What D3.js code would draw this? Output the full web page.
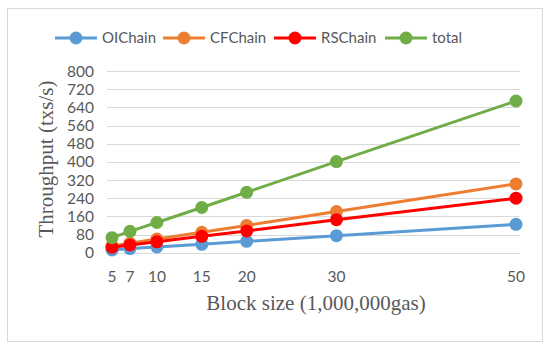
<!DOCTYPE html>
<meta charset="utf-8">
<script src="https://d3js.org/d3.v7.min.js"></script>
<style>
  body { margin: 0; background: #fff; }
  text { font-family: Lato, "Noto Sans", Arial, sans-serif; fill: #595959; }
  .title { font-family: "Liberation Serif", "Times New Roman", serif; font-size: 21px; }
</style>
<div id="my_dataviz"></div>
<script>

// data
var blockSizes = [5, 7, 10, 15, 20, 30, 50]
var oiChain = [12, 18, 25, 37, 50, 75, 125]
var cfChain = [30, 42, 60, 90, 120, 181, 303]
var rsChain = [24, 34, 48, 72, 96, 145, 240]
var total   = [66, 94, 133, 199, 266, 401, 668]
var yTicks = [0, 80, 160, 240, 320, 400, 480, 560, 640, 720, 800]
var seriesNames = ["OIChain", "CFChain", "RSChain", "total"]
var seriesColors = ["#5B9BD5", "#ED7D31", "#FF0000", "#70AD47"]

var series = [oiChain, cfChain, rsChain, total].map(function(vals, i) {
  return { name: seriesNames[i], color: seriesColors[i], values: vals }
})

var width = 550, height = 352

var svg = d3.select("#my_dataviz")
  .append("svg")
    .attr("width", width)
    .attr("height", height)

// chart border
svg.append("rect")
  .attr("x", 7.5).attr("y", 8.5)
  .attr("width", 535).attr("height", 333)
  .attr("fill", "white")
  .attr("stroke", "#D9D9D9")

var x = d3.scaleLinear().domain([5, 50]).range([112, 516])
var y = d3.scaleLinear().domain([0, 800]).range([252.7, 71])

// gridlines
svg.selectAll(".grid")
  .data(yTicks)
  .enter()
  .append("line")
    .attr("x1", 107).attr("x2", 520)
    .attr("y1", function(d){ return Math.round(y(d)) + 0.5 })
    .attr("y2", function(d){ return Math.round(y(d)) + 0.5 })
    .attr("stroke", "#D9D9D9")
    .attr("stroke-width", 1)

// y tick labels
svg.selectAll(".ylab")
  .data(yTicks)
  .enter()
  .append("text")
    .attr("x", 94)
    .attr("y", function(d){ return y(d) })
    .attr("dy", "0.36em")
    .attr("text-anchor", "end")
    .attr("font-size", "15.5px")
    .text(function(d){ return d })

// x tick labels
svg.selectAll(".xlab")
  .data(blockSizes)
  .enter()
  .append("text")
    .attr("x", function(d){ return x(d) })
    .attr("y", 282)
    .attr("text-anchor", "middle")
    .attr("font-size", "15.5px")
    .text(function(d){ return d })

// lines and markers
var line = d3.line()
  .x(function(d, i){ return x(blockSizes[i]) })
  .y(function(d){ return y(d) })

series.forEach(function(s) {
  svg.append("path")
    .datum(s.values)
    .attr("d", line)
    .attr("fill", "none")
    .attr("stroke", s.color)
    .attr("stroke-width", 3)
  svg.selectAll(".pt-" + s.name)
    .data(s.values)
    .enter()
    .append("circle")
      .attr("cx", function(d, i){ return x(blockSizes[i]) })
      .attr("cy", function(d){ return y(d) })
      .attr("r", 6.5)
      .attr("fill", s.color)
})

// axis titles
svg.append("text")
  .attr("class", "title")
  .attr("x", 316).attr("y", 310)
  .attr("text-anchor", "middle")
  .text("Block size (1,000,000gas)")

svg.append("text")
  .attr("class", "title")
  .attr("transform", "translate(53,159) rotate(-90)")
  .attr("text-anchor", "middle")
  .text("Throughput (txs/s)")

// legend
var legendX = [55, 163, 274, 385]
var legend = svg.selectAll(".legend")
  .data(series)
  .enter()
  .append("g")
    .attr("transform", function(d, i){ return "translate(" + legendX[i] + ",38)" })

legend.append("line")
  .attr("x1", 0).attr("x2", 42)
  .attr("stroke", function(d){ return d.color })
  .attr("stroke-width", 3)
legend.append("circle")
  .attr("cx", 21).attr("r", 6.5)
  .attr("fill", function(d){ return d.color })
legend.append("text")
  .attr("x", 47)
  .attr("dy", "0.36em")
  .attr("font-size", "15px")
  .text(function(d){ return d.name })

</script>
